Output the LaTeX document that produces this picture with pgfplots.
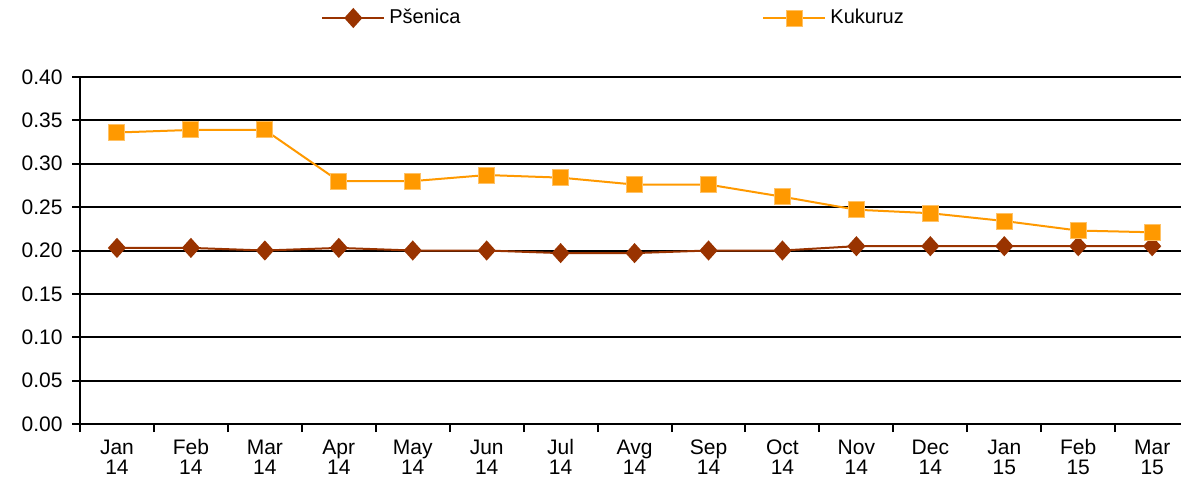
\documentclass[border=0pt]{standalone}
\usepackage{pgfplots}
\pgfplotsset{compat=1.18}
\usepackage{fontspec}
\setmainfont{Liberation Sans}
\definecolor{psenica}{HTML}{993300}
\definecolor{kukuruz}{HTML}{FF9900}
\definecolor{kukedge}{HTML}{FFC266}
\newcommand\tl[2]{\rule{0pt}{8.5pt}#1\\#2}
\begin{document}
\fontsize{10.5}{12}\selectfont
\begin{tikzpicture}
\begin{axis}[
  scale only axis,
  width=550.5pt, height=173.5pt,
  xmin=-0.5, xmax=14.39,
  ymin=0, ymax=0.40,
  axis x line=bottom, axis y line=left,
  axis line style={line width=1.4pt, -},
  ytick={0,0.05,...,0.401},
  yticklabel style={/pgf/number format/fixed, /pgf/number format/fixed zerofill, /pgf/number format/precision=2, /pgf/number format/assume math mode=true},
  ymajorgrids,
  major grid style={black, line width=1pt},
  xtick={0,...,14},
  major x tick style={draw=none},
  minor xtick={-0.5,0.5,...,13.6},
  minor x tick style={black, line width=1pt},
  minor tick length=4pt,
  major tick length=4pt,
  tick align=outside,
  ytick style={black, line width=1pt},
  xticklabels={{\tl{Jan}{14}},{\tl{Feb}{14}},{\tl{Mar}{14}},{\tl{Apr}{14}},{\tl{May}{14}},{\tl{Jun}{14}},{\tl{Jul}{14}},{\tl{Avg}{14}},{\tl{Sep}{14}},{\tl{Oct}{14}},{\tl{Nov}{14}},{\tl{Dec}{14}},{\tl{Jan}{15}},{\tl{Feb}{15}},{\tl{Mar}{15}}},
  xticklabel style={align=center, font=\fontsize{10.5}{10}\selectfont, anchor=north, inner sep=0pt, yshift=-2.5pt},
  yticklabel style={xshift=-1pt},
  legend columns=2,
  legend style={draw=none, at={(axis description cs:0.4855,1.17)}, anchor=center, font=\fontsize{10}{12}\selectfont,
    /tikz/every even column/.append style={column sep=149pt}},
  legend image code/.code={
    \draw[#1, mark repeat=2, mark phase=2] plot coordinates {(0pt,0pt) (15.5pt,0pt) (31pt,0pt)};
  },
  clip=false,
]
\addplot[psenica, line width=1pt, mark=diamond*, mark size=4.3pt, mark options={fill=psenica, xscale=1.2}]
  coordinates {(0,0.203) (1,0.203) (2,0.200) (3,0.203) (4,0.200) (5,0.200) (6,0.197) (7,0.197) (8,0.200) (9,0.200) (10,0.205) (11,0.205) (12,0.205) (13,0.205) (14,0.205)};
\addlegendentry{Pšenica}
\addplot[kukuruz, line width=1pt, mark=square*, mark size=4pt, mark options={fill=kukuruz, draw=kukedge, line width=0.5pt}]
  coordinates {(0,0.336) (1,0.339) (2,0.339) (3,0.280) (4,0.280) (5,0.287) (6,0.284) (7,0.276) (8,0.276) (9,0.262) (10,0.247) (11,0.243) (12,0.234) (13,0.223) (14,0.221)};
\addlegendentry{Kukuruz}
\end{axis}
\pgfresetboundingbox
\path (-40pt,-27pt) rectangle (550.5pt,212pt);
\end{tikzpicture}
\end{document}
